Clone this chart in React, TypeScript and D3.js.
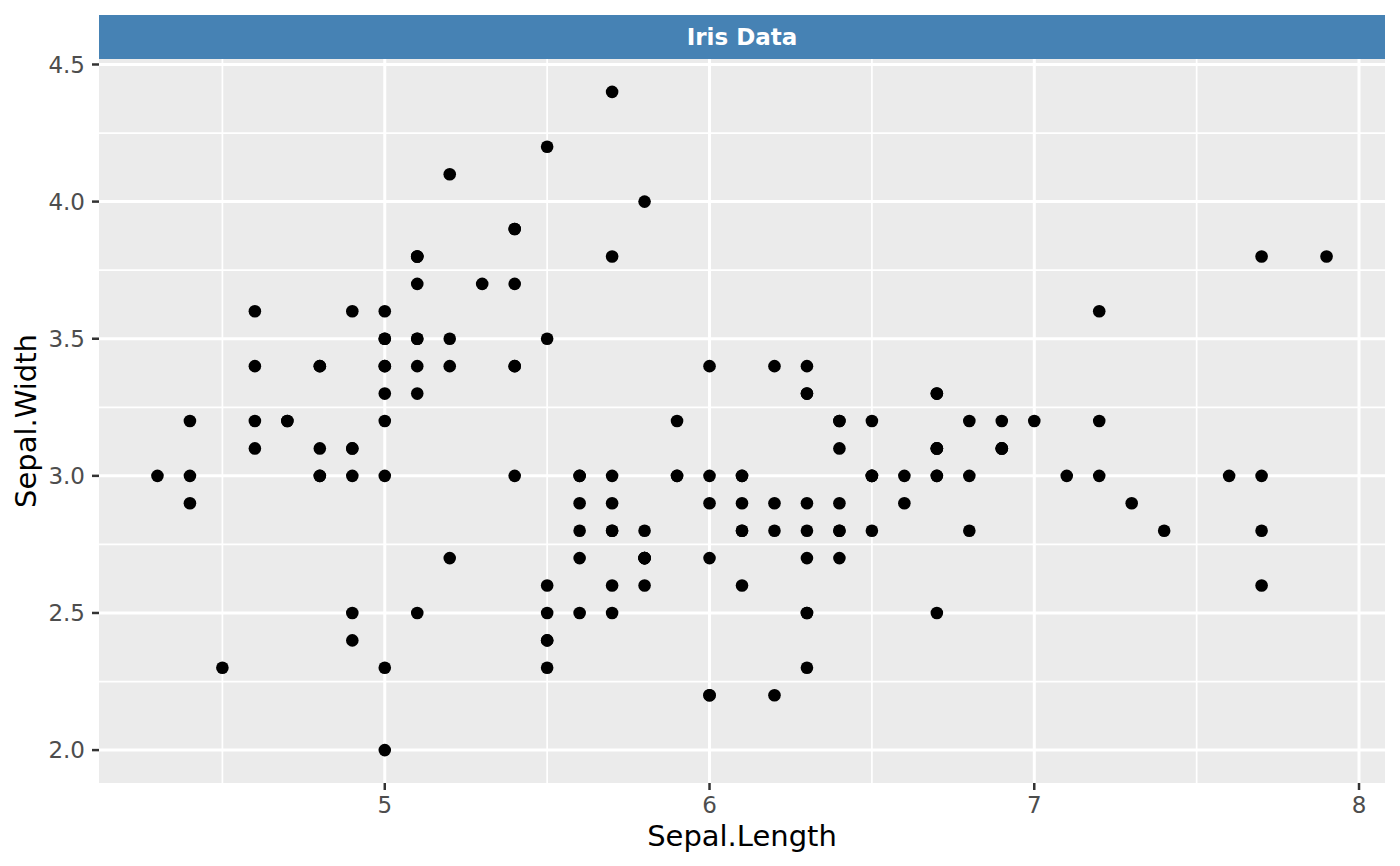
import React from "react";
import * as d3 from "d3";

const sepalLength: number[] = [
  5.1, 4.9, 4.7, 4.6, 5.0, 5.4, 4.6, 5.0, 4.4, 4.9, 5.4, 4.8, 4.8, 4.3, 5.8, 5.7, 5.4, 5.1, 5.7, 5.1,
  5.4, 5.1, 4.6, 5.1, 4.8, 5.0, 5.0, 5.2, 5.2, 4.7, 4.8, 5.4, 5.2, 5.5, 4.9, 5.0, 5.5, 4.9, 4.4, 5.1,
  5.0, 4.5, 4.4, 5.0, 5.1, 4.8, 5.1, 4.6, 5.3, 5.0, 7.0, 6.4, 6.9, 5.5, 6.5, 5.7, 6.3, 4.9, 6.6, 5.2,
  5.0, 5.9, 6.0, 6.1, 5.6, 6.7, 5.6, 5.8, 6.2, 5.6, 5.9, 6.1, 6.3, 6.1, 6.4, 6.6, 6.8, 6.7, 6.0, 5.7,
  5.5, 5.5, 5.8, 6.0, 5.4, 6.0, 6.7, 6.3, 5.6, 5.5, 5.5, 6.1, 5.8, 5.0, 5.6, 5.7, 5.7, 6.2, 5.1, 5.7,
  6.3, 5.8, 7.1, 6.3, 6.5, 7.6, 4.9, 7.3, 6.7, 7.2, 6.5, 6.4, 6.8, 5.7, 5.8, 6.4, 6.5, 7.7, 7.7, 6.0,
  6.9, 5.6, 7.7, 6.3, 6.7, 7.2, 6.2, 6.1, 6.4, 7.2, 7.4, 7.9, 6.4, 6.3, 6.1, 7.7, 6.3, 6.4, 6.0, 6.9,
  6.7, 6.9, 5.8, 6.8, 6.7, 6.7, 6.3, 6.5, 6.2, 5.9,
];

const sepalWidth: number[] = [
  3.5, 3.0, 3.2, 3.1, 3.6, 3.9, 3.4, 3.4, 2.9, 3.1, 3.7, 3.4, 3.0, 3.0, 4.0, 4.4, 3.9, 3.5, 3.8, 3.8,
  3.4, 3.7, 3.6, 3.3, 3.4, 3.0, 3.4, 3.5, 3.4, 3.2, 3.1, 3.4, 4.1, 4.2, 3.1, 3.2, 3.5, 3.6, 3.0, 3.4,
  3.5, 2.3, 3.2, 3.5, 3.8, 3.0, 3.8, 3.2, 3.7, 3.3, 3.2, 3.2, 3.1, 2.3, 2.8, 2.8, 3.3, 2.4, 2.9, 2.7,
  2.0, 3.0, 2.2, 2.9, 2.9, 3.1, 3.0, 2.7, 2.2, 2.5, 3.2, 2.8, 2.5, 2.8, 2.9, 3.0, 2.8, 3.0, 2.9, 2.6,
  2.4, 2.4, 2.7, 2.7, 3.0, 3.4, 3.1, 2.3, 3.0, 2.5, 2.6, 3.0, 2.6, 2.3, 2.7, 3.0, 2.9, 2.9, 2.5, 2.8,
  3.3, 2.7, 3.0, 2.9, 3.0, 3.0, 2.5, 2.9, 2.5, 3.6, 3.2, 2.7, 3.0, 2.5, 2.8, 3.2, 3.0, 3.8, 2.6, 2.2,
  3.2, 2.8, 2.8, 2.7, 3.3, 3.2, 2.8, 3.0, 2.8, 3.0, 2.8, 3.8, 2.8, 2.8, 2.6, 3.0, 3.4, 3.1, 3.0, 3.1,
  3.1, 3.1, 2.7, 3.2, 3.3, 3.0, 2.5, 3.0, 3.4, 3.0,
];

const xTicks: number[] = [5, 6, 7, 8];
const xMinor: number[] = [4.5, 5.5, 6.5, 7.5];
const yTicks: number[] = [2.0, 2.5, 3.0, 3.5, 4.0, 4.5];
const yMinor: number[] = [2.25, 2.75, 3.25, 3.75, 4.25];
const title = "Iris Data";
const xTitle = "Sepal.Length";
const yTitle = "Sepal.Width";

const W = 1400;
const H = 866;
const panel = { left: 99, right: 1385, top: 59, bottom: 783 };
const strip = { top: 15, bottom: 59 };
const font = "'DejaVu Sans', sans-serif";

export default function App() {
  const xExt = d3.extent(sepalLength) as [number, number];
  const yExt = d3.extent(sepalWidth) as [number, number];
  const xPad = (xExt[1] - xExt[0]) * 0.05;
  const yPad = (yExt[1] - yExt[0]) * 0.05;
  const x = d3.scaleLinear().domain([xExt[0] - xPad, xExt[1] + xPad]).range([panel.left, panel.right]);
  const y = d3.scaleLinear().domain([yExt[0] - yPad, yExt[1] + yPad]).range([panel.bottom, panel.top]);

  const pts = sepalLength.map((v, i) => ({ x: v, y: sepalWidth[i] }));

  return (
    <svg
      width={W}
      height={H}
      style={{ position: "absolute", left: 0, top: 0, background: "#fff" }}
      fontFamily={font}
    >
      <rect x={panel.left} y={panel.top} width={panel.right - panel.left} height={panel.bottom - panel.top} fill="#EBEBEB" />
      {xMinor.map((t) => (
        <line key={"xm" + t} x1={x(t)} x2={x(t)} y1={panel.top} y2={panel.bottom} stroke="#fff" strokeWidth={1.7} />
      ))}
      {yMinor.map((t) => (
        <line key={"ym" + t} y1={y(t)} y2={y(t)} x1={panel.left} x2={panel.right} stroke="#fff" strokeWidth={1.7} />
      ))}
      {xTicks.map((t) => (
        <line key={"xg" + t} x1={x(t)} x2={x(t)} y1={panel.top} y2={panel.bottom} stroke="#fff" strokeWidth={3} />
      ))}
      {yTicks.map((t) => (
        <line key={"yg" + t} y1={y(t)} y2={y(t)} x1={panel.left} x2={panel.right} stroke="#fff" strokeWidth={3} />
      ))}
      {pts.map((p, i) => (
        <circle key={i} cx={x(p.x)} cy={y(p.y)} r={6.3} fill="#000" />
      ))}
      <rect x={panel.left} y={strip.top} width={panel.right - panel.left} height={strip.bottom - strip.top} fill="#4682B4" />
      <text
        x={(panel.left + panel.right) / 2}
        y={(strip.top + strip.bottom) / 2}
        dy="0.36em"
        textAnchor="middle"
        fill="#fff"
        fontWeight="bold"
        fontSize={23}
      >
        {title}
      </text>
      {xTicks.map((t) => (
        <g key={"xt" + t}>
          <line x1={x(t)} x2={x(t)} y1={panel.bottom} y2={panel.bottom + 7} stroke="#333" strokeWidth={2.5} />
          <text x={x(t)} y={panel.bottom + 30} textAnchor="middle" fill="#4D4D4D" fontSize={23}>
            {d3.format("d")(t)}
          </text>
        </g>
      ))}
      {yTicks.map((t) => (
        <g key={"yt" + t}>
          <line x1={panel.left - 7} x2={panel.left} y1={y(t)} y2={y(t)} stroke="#333" strokeWidth={2.5} />
          <text x={panel.left - 14} y={y(t)} dy="0.36em" textAnchor="end" fill="#4D4D4D" fontSize={23}>
            {d3.format(".1f")(t)}
          </text>
        </g>
      ))}
      <text x={(panel.left + panel.right) / 2} y={846} textAnchor="middle" fill="#000" fontSize={29}>
        {xTitle}
      </text>
      <text
        transform={`translate(36, ${(panel.top + panel.bottom) / 2}) rotate(-90)`}
        textAnchor="middle"
        fill="#000"
        fontSize={29}
      >
        {yTitle}
      </text>
    </svg>
  );
}
